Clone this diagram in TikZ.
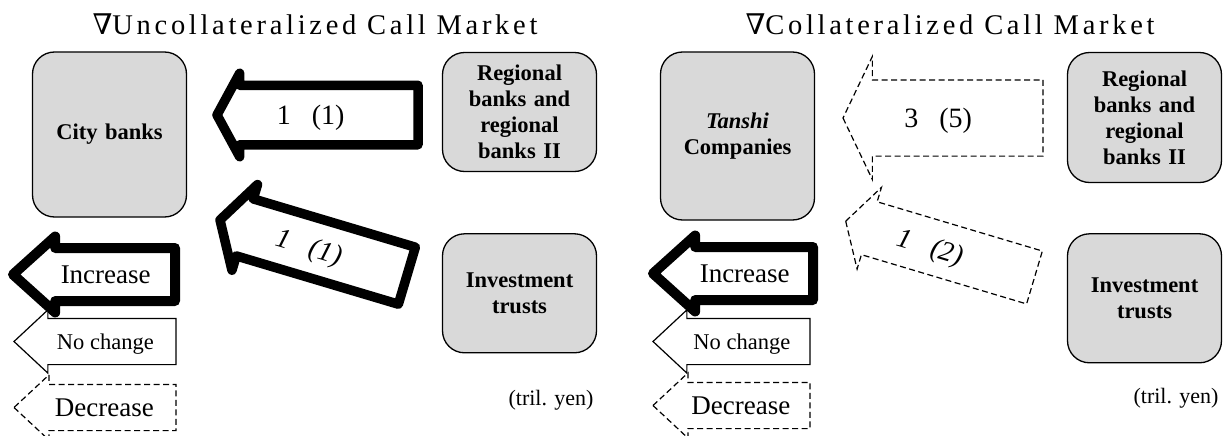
\documentclass[tikz,border=0pt]{standalone}
\usepackage{fontspec}
\setmainfont{Liberation Serif}
\newfontfamily\titlefont[LetterSpace=13]{Liberation Serif}
\newfontfamily\nablafont{DejaVu Serif}
\usetikzlibrary{shapes.arrows, positioning}

\tikzset{
  bank/.style = {rectangle, rounded corners=22pt, minimum width=154pt, minimum height=119pt, text width=145pt, align=center, draw=black, line width=1.3pt, fill=black!15, font=\fontsize{22.5}{26}\selectfont\bfseries},
  flow/.style = {single arrow, shape border rotate=180, anchor=tip, outer sep=0pt, draw=black, fill=white, inner xsep=0pt, text height=20pt, text depth=2pt, single arrow head indent=0pt},
  heavyflow/.style = {flow, line width=9.5pt, line join=round},
  solidflow/.style = {flow, line width=1.2pt},
  dashflow/.style = {flow, line width=1.2pt, dash pattern=on 6pt off 3.5pt},
  heading/.style = {font=\titlefont\fontsize{28.5}{30}\selectfont},
  unitnote/.style = {anchor=east, font=\fontsize{22}{24}\selectfont},
  big/.style = {font=\fontsize{28}{30}\selectfont},
  legendtext/.style = {font=\fontsize{27}{30}\selectfont}
}

\begin{document}
\begin{tikzpicture}[x=1pt, y=-1pt]
\useasboundingbox (0,0) rectangle (1231,436);

%% LEFT: uncollateralized

\node (head1) [heading] at (315,24) {{\nablafont ∇}Uncollateralized Call Market};
\node (city) [bank, minimum height=165pt] at (109.5,134.5) {City banks};
\node (reg1) [bank] at (519.5,112) {Regional\\banks and\\regional\\banks II};
\node (inv1) [bank, below=61pt of reg1] {Investment\\trusts};
\node (unit1) [unitnote] at (597,400) {(tril. yen)};

\node (flow1) [heavyflow, big, minimum height=201pt, inner ysep=14pt, single arrow head extend=12pt, single arrow tip angle=123] at (217,115) {1\hspace{0.75em}(1)\hspace{30pt}\null};
\node (flow2) [heavyflow, big, rotate=-16.6, minimum height=195pt, inner ysep=14pt, single arrow head extend=15pt, single arrow tip angle=120] at (220,220) {\itshape 1\hspace{0.75em}(1)\hspace{26pt}\null};

% legend
\node (inc1) [heavyflow, legendtext, line width=10pt, minimum height=162pt, inner ysep=10.5pt, single arrow head extend=11.5pt, single arrow tip angle=84] at (13,274.5) {Increase\hspace{6pt}\null};
\node (same1) [solidflow, font=\fontsize{22.5}{24}\selectfont, text height=18.5pt, text depth=3.5pt, minimum height=162pt, inner ysep=11.5pt, single arrow head extend=8.5pt, single arrow tip angle=86] at (14,341.5) {No change\hspace{4pt}\null};
\node (dec1) [dashflow, legendtext, minimum height=162pt, inner ysep=11.5pt, single arrow head extend=9.5pt, single arrow tip angle=86] at (14,407.5) {Decrease\hspace{6pt}\null};

%% RIGHT: collateralized

\node (head2) [heading] at (950,24) {{\nablafont ∇}Collateralized Call Market};
\node (tanshi) [bank, minimum height=168pt] at (737.5,136) {\textit{Tanshi}\\Companies};
\node (reg2) [bank, minimum height=130pt] at (1144.5,117.5) {Regional\\banks and\\regional\\banks II};
\node (inv2) [bank, minimum height=129pt, below=50pt of reg2] {Investment\\trusts};
\node (unit2) [unitnote] at (1222,398) {(tril. yen)};

\node (flow3) [dashflow, big, minimum height=200pt, inner ysep=26.5pt, single arrow head extend=23.5pt, single arrow tip angle=129] at (843,118) {3\hspace{0.75em}(5)\hspace{28pt}\null};
\node (flow4) [dashflow, big, rotate=-16.6, minimum height=197pt, inner ysep=16pt, single arrow head extend=15pt, single arrow tip angle=120] at (845.7,221.2) {\itshape 1\hspace{0.75em}(2)\hspace{36pt}\null};

% legend
\node (inc2) [heavyflow, legendtext, line width=10pt, minimum height=160pt, inner ysep=10.5pt, single arrow head extend=11.5pt, single arrow tip angle=84] at (653,273.5) {Increase\hspace{6pt}\null};
\node (same2) [solidflow, font=\fontsize{22.5}{24}\selectfont, text height=18.5pt, text depth=3.5pt, minimum height=157pt, inner ysep=11.5pt, single arrow head extend=8.5pt, single arrow tip angle=86] at (653,341.5) {No change\hspace{4pt}\null};
\node (dec2) [dashflow, legendtext, minimum height=157pt, inner ysep=11.5pt, single arrow head extend=9.5pt, single arrow tip angle=86] at (653,405.5) {Decrease\hspace{6pt}\null};

\end{tikzpicture}
\end{document}
